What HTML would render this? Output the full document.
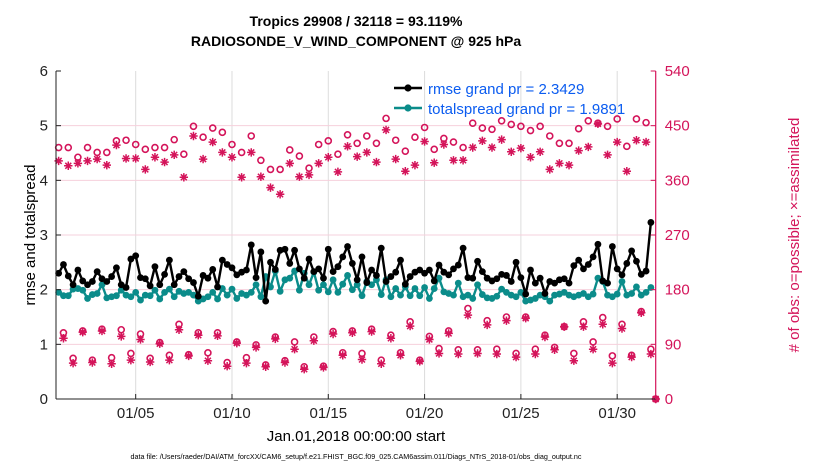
<!DOCTYPE html>
<html><head><meta charset="utf-8"><style>
body{margin:0;background:#fff}
svg{display:block;font-family:"Liberation Sans",Arial,sans-serif}
</style></head><body>
<svg id="chart" width="830" height="470" viewBox="0 0 830 470" xmlns="http://www.w3.org/2000/svg">
<rect width="830" height="470" fill="#fff"/>
<g id="grid"></g>
<g id="marks"></g>
<g id="axes"></g>
<text x="356" y="26" text-anchor="middle" font-size="14" font-weight="bold">Tropics 29908 / 32118 = 93.119%</text>
<text x="356" y="46" text-anchor="middle" font-size="14" font-weight="bold">RADIOSONDE_V_WIND_COMPONENT @ 925 hPa</text>
<text transform="translate(35,235) rotate(-90)" text-anchor="middle" font-size="15">rmse and totalspread</text>
<text transform="translate(799,235) rotate(-90)" text-anchor="middle" font-size="15" fill="#d4145a"># of obs: o=possible; ×=assimilated</text>
<text x="356" y="441" text-anchor="middle" font-size="15">Jan.01,2018 00:00:00 start</text>
<text x="356" y="459" text-anchor="middle" font-size="7.2">data file: /Users/raeder/DAI/ATM_forcXX/CAM6_setup/f.e21.FHIST_BGC.f09_025.CAM6assim.011/Diags_NTrS_2018-01/obs_diag_output.nc</text>
<g id="legend">
<line x1="394" y1="88" x2="422" y2="88" stroke="#000" stroke-width="2.5"/>
<circle cx="408" cy="88" r="3.6" fill="#000"/>
<text x="428" y="94" font-size="15" fill="#0b5cf0">rmse grand pr = 2.3429</text>
<line x1="394" y1="108" x2="422" y2="108" stroke="#0b8c8a" stroke-width="2.5"/>
<circle cx="408" cy="108" r="3.6" fill="#0b8c8a"/>
<text x="428" y="114" font-size="15" fill="#0b5cf0">totalspread grand pr = 1.9891</text>
</g>
</svg>
<script>
// ---- data ----
const rmse = [2.30,2.46,2.25,2.09,2.36,2.16,2.09,2.15,2.33,2.20,2.15,2.24,2.40,2.09,2.04,2.56,2.62,2.22,2.20,2.07,2.42,2.09,2.28,2.54,2.09,2.24,2.33,2.20,2.13,1.88,2.26,
2.21,2.37,2.05,2.54,2.46,2.40,2.27,2.32,2.36,2.82,2.22,2.69,1.79,2.50,2.37,2.72,2.74,2.48,2.72,2.38,2.21,2.56,2.33,2.38,2.21,2.74,2.33,2.42,2.60,2.79,2.48,
2.18,2.60,2.13,2.36,2.26,2.76,2.15,2.24,2.32,2.54,2.10,2.24,2.32,2.36,2.30,2.36,2.16,2.45,2.32,2.27,2.38,2.45,2.76,2.22,2.21,2.52,2.33,2.21,2.16,2.20,
2.28,2.26,2.15,2.50,2.22,1.92,2.36,2.12,2.21,1.93,2.15,2.12,2.18,2.20,2.12,2.44,2.54,2.38,2.46,2.60,2.83,2.16,2.12,2.79,2.38,2.27,2.48,2.71,2.52,2.28,2.34,3.23];
const spread = [1.95,1.89,1.89,2.01,2.02,1.99,1.84,1.91,1.93,2.09,1.85,1.87,1.89,1.99,1.90,1.87,1.95,1.81,1.90,1.89,1.99,1.83,1.95,2.01,1.87,1.97,1.93,1.95,1.90,1.79,1.83,
1.87,1.95,1.83,2.02,1.90,2.01,1.84,1.93,1.90,1.95,2.09,1.87,2.24,2.05,2.34,1.97,2.18,2.21,2.34,1.99,2.30,2.09,2.32,1.99,2.09,1.96,2.18,1.95,2.10,2.26,2.00,
2.09,1.89,2.15,2.09,2.18,1.91,2.18,1.87,2.02,1.90,2.05,1.89,2.02,1.89,2.04,1.84,2.02,2.21,1.96,1.93,1.90,2.12,1.87,1.90,1.84,2.09,1.91,1.85,1.84,1.88,
2.01,1.95,1.90,1.87,1.95,1.79,1.81,1.84,1.90,1.87,1.79,1.90,1.92,1.95,1.90,1.87,1.90,1.93,1.87,1.92,2.21,2.15,1.90,1.87,1.92,2.15,1.90,1.93,2.05,1.90,1.95,2.04];
// obs at 00Z/12Z
const possSyn = [414,414,398,414,406,406,425,426,419,411,414,414,427,403,449,431,446,439,419,406,433,393,378,378,410,400,380,419,425,403,435,
421,433,421,462,426,408,431,447,411,429,423,414,454,446,444,458,452,449,442,449,433,421,421,445,458,454,449,461,416,461,455,0];
const assimSyn = [392,384,388,392,395,385,418,396,396,378,398,390,402,365,433,395,423,406,398,365,406,366,348,337,388,366,369,388,398,374,416,
399,406,390,443,395,375,385,424,389,419,393,393,414,425,414,427,407,413,398,407,378,388,385,409,415,453,402,423,375,426,423,0];
// obs at 06Z/18Z
const possOff = [109,67,112,64,115,68,114,75,107,67,93,72,123,73,109,76,109,60,94,68,89,56,102,63,94,53,102,54,111,76,112,
75,115,64,105,76,127,64,103,83,112,81,149,81,129,82,135,75,135,82,105,85,119,75,127,94,134,71,123,72,144,82];
const assimOff = [100,59,110,60,112,58,103,64,98,61,91,64,114,71,105,63,104,54,92,59,85,53,99,60,82,49,96,52,107,72,109,
65,111,58,100,72,120,62,98,75,108,74,138,75,122,74,129,69,133,74,102,81,119,63,119,82,123,59,116,69,142,74];
const yTicks = [0,1,2,3,4,5,6];
const rTicks = [0,90,180,270,360,450,540];
const xTickDays = [5,10,15,20,25,30];
const xTickLabels = ["01/05","01/10","01/15","01/20","01/25","01/30"];

// ---- axes ----
const L=56,R=655.7,T=71,B=399;
const hMin=-3.3,hMax=744;
const X=h=>L+(h-hMin)/(hMax-hMin)*(R-L);
const Y=v=>B-v/6*(B-T);
const YR=v=>B-v/540*(B-T);
const NS="http://www.w3.org/2000/svg";
function mk(tag,attrs,parent){const e=document.createElementNS(NS,tag);for(const k in attrs)e.setAttribute(k,attrs[k]);parent.appendChild(e);return e;}
const grid=document.getElementById('grid'),marks=document.getElementById('marks'),axes=document.getElementById('axes');
const MAG="#d4145a",TEAL="#0b8c8a";

xTickDays.forEach((d,i)=>{const x=X((d-1)*24);
 const g=mk('line',{x1:x,x2:x,y1:T,y2:B,stroke:'#dcdcdc','stroke-width':1},grid);
 
 
 const t=mk('line',{x1:x,x2:x,y1:B,y2:B-5,stroke:'#222','stroke-width':1},axes);
 
 
 const l=mk('text',{x:x,y:418,'text-anchor':'middle','font-size':15,fill:'#222'},axes);l.textContent=xTickLabels[i];
 
 
});
rTicks.forEach(v=>{const y=YR(v);
 if(v>0&&v<540){const g=mk('line',{x1:L,x2:R,y1:y,y2:y,stroke:'#f6d0dc','stroke-width':1},grid);
 
 }
 const t=mk('line',{x1:R,x2:R-5,y1:y,y2:y,stroke:MAG,'stroke-width':1},axes);
 
 
 const l=mk('text',{x:R+9,y:y+5,'font-size':15,fill:MAG},axes);l.textContent=v;
 
 
});
yTicks.forEach(v=>{const y=Y(v);
 const t=mk('line',{x1:L,x2:L+5,y1:y,y2:y,stroke:'#222','stroke-width':1},axes);
 
 
 const l=mk('text',{x:L-8,y:y+5,'text-anchor':'end','font-size':15,fill:'#222'},axes);l.textContent=v;
 
 
});
let a=mk('line',{x1:L,x2:L,y1:T,y2:B,stroke:'#222','stroke-width':1},axes);


a=mk('line',{x1:L,x2:R,y1:B,y2:B,stroke:'#222','stroke-width':1},axes);


a=mk('line',{x1:R,x2:R,y1:T,y2:B,stroke:MAG,'stroke-width':1.2},axes);



// ---- obs markers ----
function star(cx,cy,col){const r=4.2;let d='';
 for(let k=0;k<4;k++){const an=k*Math.PI/4;const dx=r*Math.cos(an),dy=r*Math.sin(an);d+=`M${cx-dx},${cy-dy}L${cx+dx},${cy+dy}`;}
 return mk('path',{d:d,stroke:col,'stroke-width':1.5,fill:'none'},marks);}
function ring(cx,cy,col){return mk('circle',{cx:cx,cy:cy,r:3,fill:'none',stroke:col,'stroke-width':1.6},marks);}
possSyn.forEach((v,k)=>{const c=ring(X(k*12),YR(v),MAG);
 
 });
assimSyn.forEach((v,k)=>{const s=star(X(k*12),YR(v),MAG);
 
 });
possOff.forEach((v,k)=>{const c=ring(X(6+k*12),YR(v),MAG);
 
 });
assimOff.forEach((v,k)=>{const s=star(X(6+k*12),YR(v),MAG);
 
 });

// ---- lines ----
function series(vals,col,name){
 const pts=vals.map((v,i)=>X(i*6)+','+Y(v)).join(' ');
 const pl=mk('polyline',{points:pts,fill:'none',stroke:col,'stroke-width':2.4,'stroke-linejoin':'round'},marks);
 
 
 vals.forEach((v,i)=>{const c=mk('circle',{cx:X(i*6),cy:Y(v),r:3.4,fill:col},marks);
  
  });
}
series(spread,TEAL,'totalspread');
series(rmse,'#000','rmse');
</script>
</body></html>
